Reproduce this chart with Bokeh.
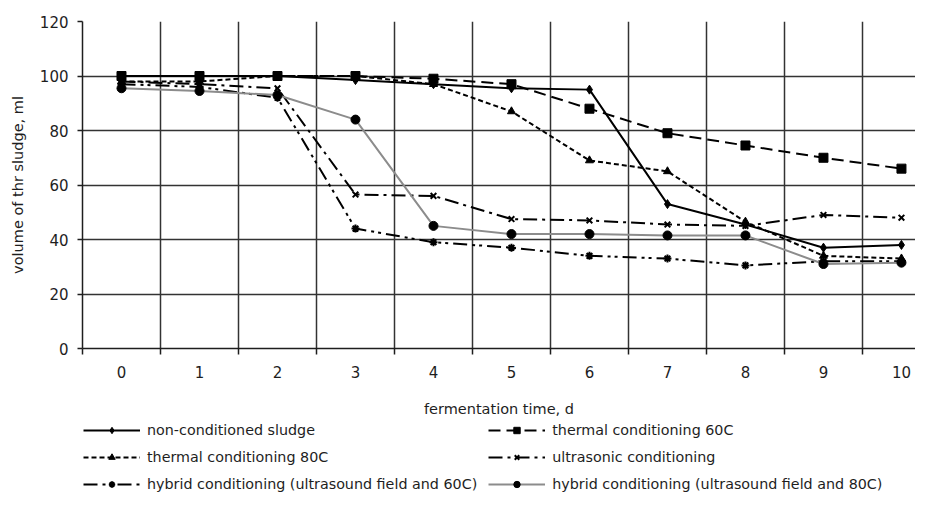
from bokeh.plotting import figure
from bokeh.layouts import column
from bokeh.models import FixedTicker, Legend, LegendItem, Range1d
from bokeh.embed import file_html
from bokeh.resources import INLINE

days = list(range(11))
non_conditioned = [100, 100, 100, 98.5, 97, 95.5, 95, 53, 45.5, 37, 38]
thermal_60 = [100, 100, 100, 100, 99, 97, 88, 79, 74.5, 70, 66]
thermal_80 = [98, 98, 100, 100, 97, 87, 69, 65, 46.5, 34, 33]
ultrasonic = [98, 97, 95.5, 56.5, 56, 47.5, 47, 45.5, 45, 49, 48]
hybrid_60 = [97, 96, 92, 44, 39, 37, 34, 33, 30.5, 32, 32]
hybrid_80 = [95.5, 94.5, 93, 84, 45, 42, 42, 41.5, 41.5, 31, 31.5]
y_ticks = [0, 20, 40, 60, 80, 100, 120]
names = ["non-conditioned sludge", "thermal conditioning 60C",
         "thermal conditioning 80C", "ultrasonic conditioning",
         "hybrid conditioning (ultrasound field and 60C)",
         "hybrid conditioning (ultrasound field and 80C)"]

FONT = "DejaVu Sans"
INK = "#1e1e1e"

H_MAIN = 422
H_LEG = 492 - H_MAIN

p = figure(width=915, height=H_MAIN, x_range=Range1d(-0.5, 10.18), y_range=Range1d(0, 120),
           output_backend="svg", toolbar_location=None,
           min_border_left=82, min_border_right=0, min_border_top=21,
           min_border_bottom=74)
p.outline_line_color = None
p.background_fill_color = "white"

# axes
xa = p.xaxis[0]
xa.ticker = FixedTicker(ticks=days, minor_ticks=[d - 0.5 for d in days])
xa.major_tick_out = 0
xa.major_tick_in = 0
xa.minor_tick_out = 6
xa.minor_tick_in = 0
xa.minor_tick_line_color = INK
xa.minor_tick_line_width = 1.5
xa.axis_line_color = INK
xa.axis_line_width = 1.5
xa.major_label_standoff = 11
xa.major_label_text_font = FONT
xa.major_label_text_font_size = "15px"
xa.major_label_text_color = INK
xa.axis_label = "fermentation time, d"
xa.axis_label_text_font = FONT
xa.axis_label_text_font_size = "14.5px"
xa.axis_label_text_font_style = "normal"
xa.axis_label_text_color = INK
xa.axis_label_standoff = 20

ya = p.yaxis[0]
ya.ticker = FixedTicker(ticks=y_ticks, minor_ticks=[])
ya.major_tick_out = 5
ya.major_tick_in = 0
ya.major_tick_line_color = INK
ya.major_tick_line_width = 1.5
ya.axis_line_color = INK
ya.axis_line_width = 1.5
ya.major_label_standoff = 9
ya.major_label_text_font = FONT
ya.major_label_text_font_size = "15px"
ya.major_label_text_color = INK
ya.axis_label = "volume of thr sludge, ml"
ya.axis_label_text_font = FONT
ya.axis_label_text_font_size = "14.5px"
ya.axis_label_text_font_style = "normal"
ya.axis_label_text_color = INK
ya.axis_label_standoff = 11

p.xgrid.ticker = FixedTicker(ticks=[d + 0.5 for d in days[:-1]])
p.ygrid.ticker = FixedTicker(ticks=[20, 40, 60, 80, 100])
for g in (p.xgrid, p.ygrid):
    g.grid_line_color = "#333333"
    g.grid_line_width = 1.5
    g.grid_line_alpha = 1.0

series = [
    (non_conditioned, "black", "solid", "diamond", 9, "black"),
    (thermal_60, "black", "12 6", "square", 9, "black"),
    (thermal_80, "black", "5 3", "triangle", 8, "black"),
    (ultrasonic, "black", "14 5 3 5", "x", 8, None),
    (hybrid_60, "black", "14 5 3 4 3 5", "asterisk", 8, None),
    (hybrid_80, "#8c8c8c", "solid", "circle", 9, "black"),
]

# legend figure (below the chart)
q = figure(width=915, height=H_LEG, x_range=Range1d(0, 1), y_range=Range1d(0, 1),
           x_axis_type=None, y_axis_type=None, output_backend="svg", toolbar_location=None,
           min_border=0)
q.outline_line_color = None
q.xgrid.visible = False
q.ygrid.visible = False

items = []
for (vals, col, dash, marker, size, fill), name in zip(series, names):
    kw_line = dict(line_color=col, line_width=2, line_dash=dash)
    kw_mark = dict(marker=marker, size=size, line_color="black",
                   line_width=2 if fill is None else 1,
                   fill_color=fill if fill else "black")
    p.line(days, vals, **kw_line)
    p.scatter(days, vals, **kw_mark)
    l1 = q.line([-5, -4], [-5, -5], **kw_line)
    l2 = q.scatter([-5], [-5], **kw_mark)
    items.append(LegendItem(label=name, renderers=[l1, l2]))

legend = Legend(items=items, ncols=2, orientation="horizontal", location=(1, 0),
                margin=0, padding=0, spacing=11, glyph_width=57, glyph_height=16,
                label_height=16, label_width=330, label_standoff=7,
                label_text_font=FONT, label_text_font_size="14.3px",
                label_text_color=INK, border_line_color=None, background_fill_alpha=0)
q.add_layout(legend, "center")

layout = column(p, q, spacing=0)
open("out.html", "w").write(file_html(layout, INLINE))
